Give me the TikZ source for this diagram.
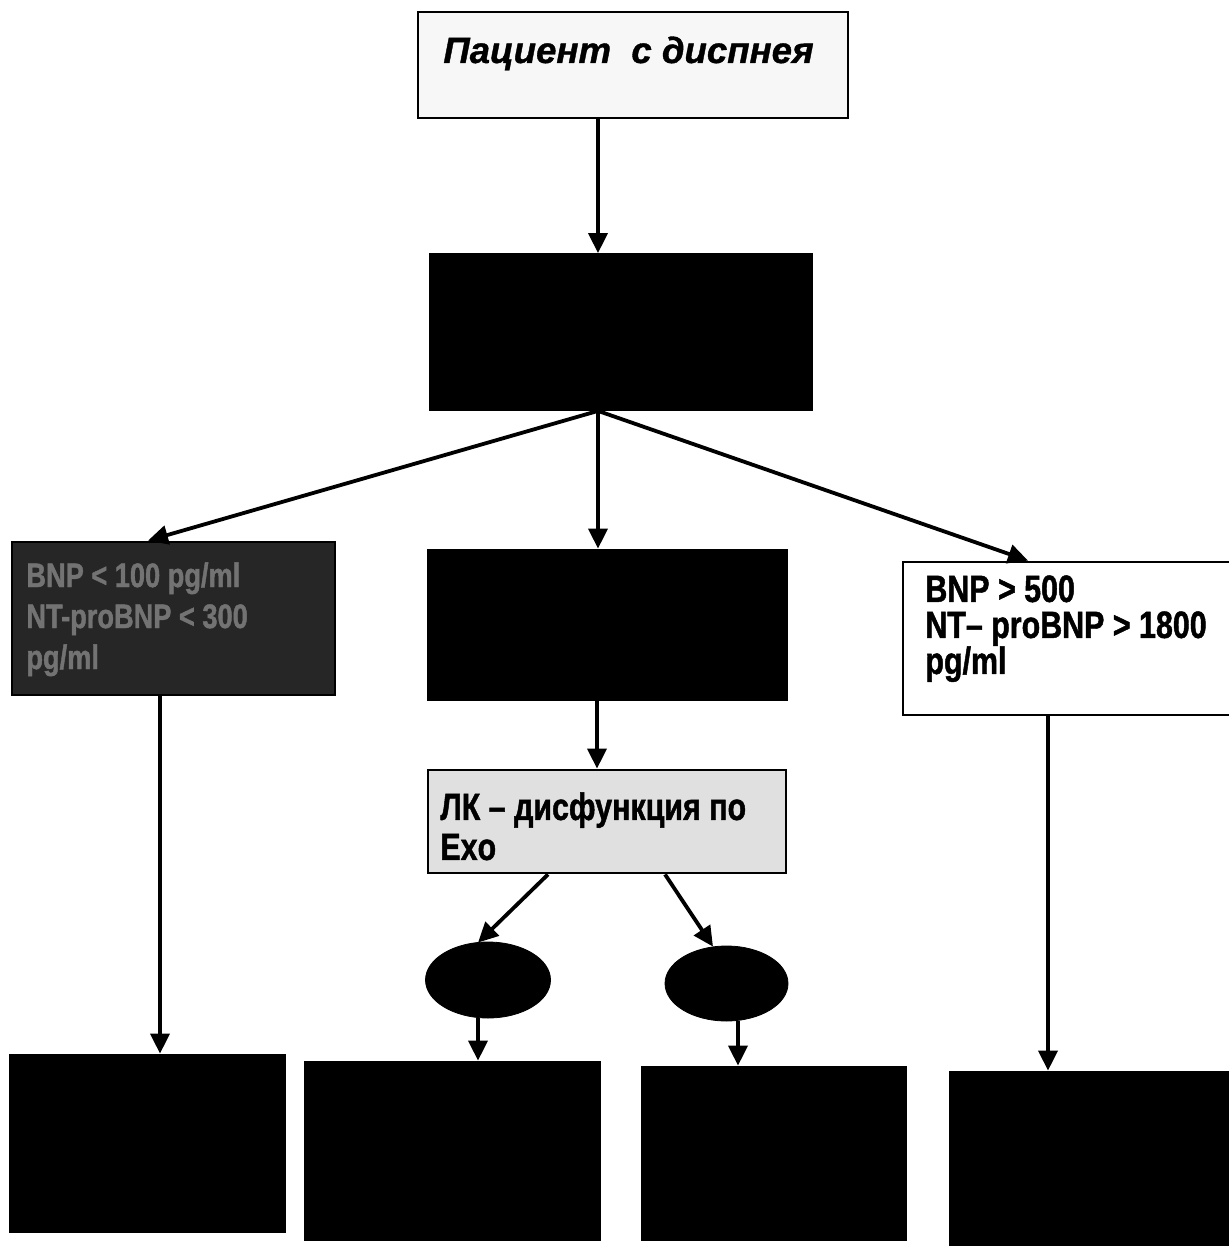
\documentclass[tikz,border=0pt]{standalone}
\usepackage{fontspec}
\setmainfont{Liberation Sans}
\newfontfamily\narrowf[FakeStretch=0.8,FakeBold=1.2]{Liberation Sans}
\newfontfamily\headf[FakeBold=1.0]{Liberation Sans}
\usetikzlibrary{arrows.meta,shapes.geometric,calc}
\begin{document}
\begin{tikzpicture}[x=0.5pt,y=-0.5pt,
  box/.style={draw=black,line width=1.4pt,rectangle,inner sep=0pt},
  darkbox/.style={box,fill=black},
  blob/.style={ellipse,fill=black,draw=black,inner sep=0pt},
  txt/.style={inner sep=0pt,anchor=north west,align=left},
  arr/.style={line width=1.9pt,-{Triangle[length=10pt,width=9.5pt]}}]
\useasboundingbox[fill=white] (0,0) rectangle (1229,1246);
% boxes
\node[box,fill=black!3,minimum width=215pt,minimum height=53pt] (pat) at (633,65) {};
\node[txt,anchor=base west,font={\fontsize{18.3}{22}\selectfont\headf\bfseries\itshape}] (pattxt) at (443,63) {Пациент\ \ с диспнея};
\node[darkbox,minimum width=191pt,minimum height=77.5pt] (b2) at (621,332) {};
\node[box,fill=black!85,draw=black,minimum width=161.5pt,minimum height=76.5pt] (lo) at (173.5,618.5) {};
\node[txt,text=black!55,font={\fontsize{17}{20.5}\selectfont\narrowf\bfseries}] (lotxt) at (26,562) {BNP < 100 pg/ml\\NT-proBNP < 300\\pg/ml};
\node[darkbox,minimum width=179.5pt,minimum height=75pt] (mid) at (607.5,625) {};
\node[box,fill=white,minimum width=166pt,minimum height=76.5pt] (hi) at (1069,638.5) {};
\node[txt,font={\fontsize{19}{18}\selectfont\narrowf\bfseries}] (hitxt) at (925,575) {BNP > 500\\NT– proBNP > 1800\\pg/ml};
\node[box,fill=black!12,minimum width=179pt,minimum height=51.5pt] (lk) at (607,821.5) {};
\node[txt,font={\fontsize{19}{20}\selectfont\narrowf\bfseries}] (lktxt) at (440,792) {ЛК – дисфункция по\\Exo};
\node[blob,minimum width=62.5pt,minimum height=38pt] (elL) at (488,980) {};
\node[blob,minimum width=61.5pt,minimum height=37.5pt] (elR) at (726.5,983.5) {};
\node[darkbox,minimum width=137.5pt,minimum height=88.5pt] (o1) at (147.5,1143.5) {};
\node[darkbox,minimum width=147.5pt,minimum height=89pt] (o2) at (452.5,1151) {};
\node[darkbox,minimum width=132pt,minimum height=86.5pt] (o3) at (774,1153.5) {};
\node[darkbox,minimum width=145pt,minimum height=89pt] (o4) at (1095,1161) {};
% connectors
\draw[arr] ([xshift=-17.5pt]pat.south) -- ([xshift=-11.5pt]b2.north);
\draw[arr] ([xshift=-11.5pt]b2.south) -- ([xshift=-12.75pt]lo.north);
\draw[arr] ([xshift=-11.5pt]b2.south) -- ([xshift=-4.75pt]mid.north);
\draw[arr] ([xshift=-11.5pt]b2.south) -- ([xshift=-20.5pt]hi.north);
\draw[arr] ([xshift=-6.75pt]lo.south) -- ([xshift=6.25pt]o1.north);
\draw[arr] ([xshift=-5.25pt]mid.south) -- ([xshift=-5pt]lk.north);
\draw[arr] ([xshift=-10.5pt]hi.south) -- ([xshift=-23.5pt]o4.north);
\draw[arr] ([xshift=-29.5pt]lk.south) -- ([xshift=-5pt,yshift=-0.5pt]elL.north);
\draw[arr] ([xshift=29pt]lk.south) -- ([xshift=-6.75pt,yshift=-0.5pt]elR.north);
\draw[arr] ([xshift=-5pt]elL.south) -- ([xshift=12.75pt]o2.north);
\draw[arr] ([xshift=5.75pt]elR.south) -- ([xshift=-18pt]o3.north);
\end{tikzpicture}
\end{document}
